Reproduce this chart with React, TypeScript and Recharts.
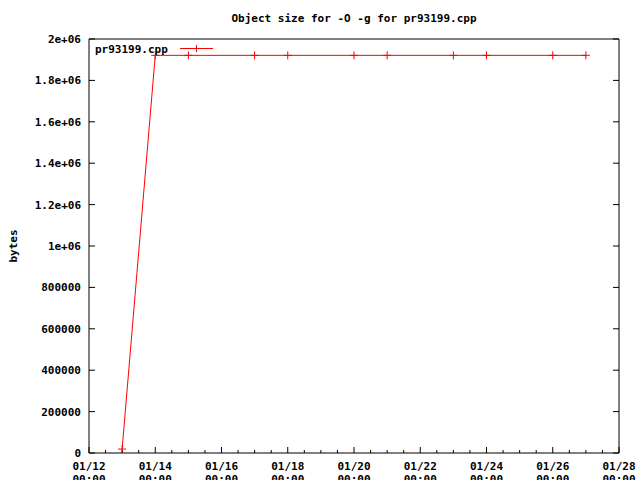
import React from 'react';
import { LineChart, Line, XAxis, YAxis, Legend } from 'recharts';

// day of January for each build, object size in bytes
const days = [13, 14, 15, 17, 18, 20, 21, 23, 24, 26, 27];
const sizes = [19000, 1921000, 1921000, 1921000, 1921000, 1921000, 1921000, 1921000, 1921000, 1921000, 1921000];

const majorDays = [12, 14, 16, 18, 20, 22, 24, 26, 28];
const yTicks = [0, 200000, 400000, 600000, 800000, 1000000, 1200000, 1400000, 1600000, 1800000, 2000000];

const data = days.map((d, i) => ({ day: d, bytes: sizes[i] }));
const xTicks = Array.from({ length: 33 }, (_, i) => 12 + i * 0.5);

const FONT = 'DejaVu Sans Mono';
const RED = '#ff0000';

const fmtY = (v: number) => (v >= 1000000 ? `${v / 1000000}e+06` : String(v));
const pad = (n: number) => (n < 10 ? '0' + n : String(n));

const BottomTick = (props: any) => {
  const { x, y, payload } = props;
  const major = majorDays.includes(payload.value);
  return (
    <g>
      <line x1={x} x2={x} y1={y} y2={y - (major ? 6 : 3)} stroke="#000" />
      {major && (
        <text x={x} textAnchor="middle" fontFamily={FONT} fontWeight="bold" fontSize={11} fill="#000">
          <tspan x={x} y={y + 17}>{`01/${pad(payload.value)}`}</tspan>
          <tspan x={x} y={y + 30}>00:00</tspan>
        </text>
      )}
    </g>
  );
};

const TopTick = (props: any) => {
  const { x, y, payload } = props;
  const major = majorDays.includes(payload.value);
  return <line x1={x} x2={x} y1={y} y2={y + (major ? 6 : 3)} stroke="#000" />;
};

const LeftTick = (props: any) => {
  const { x, y, payload } = props;
  return (
    <g>
      <line x1={x} x2={x + 6} y1={y} y2={y} stroke="#000" />
      <text x={x - 8} y={y + 4} textAnchor="end" fontFamily={FONT} fontWeight="bold" fontSize={11} fill="#000">
        {fmtY(payload.value)}
      </text>
    </g>
  );
};

const RightTick = (props: any) => {
  const { x, y } = props;
  return <line x1={x} x2={x - 6} y1={y} y2={y} stroke="#000" />;
};

const Cross = (props: any) => {
  const { cx, cy, index } = props;
  return <path key={index} d={`M${cx - 4},${cy}h8M${cx},${cy - 4}v8`} stroke={RED} fill="none" />;
};

const LegendBox = () => (
  <svg width={130} height={16} style={{ display: 'block' }}>
    <text x={0} y={12} fontFamily={FONT} fontWeight="bold" fontSize={11} fill="#000">pr93199.cpp</text>
    <line x1={85} x2={118} y1={7.5} y2={7.5} stroke={RED} />
    <path d="M101.5,4v7" stroke={RED} />
  </svg>
);

const App = () => (
  <div style={{ position: 'absolute', left: 0, top: 0, width: 640, height: 480, background: '#fff' }}>
    <LineChart width={640} height={480} data={data} margin={{ top: 38, right: 20, bottom: 0, left: 0 }}>
      <XAxis
        xAxisId="t"
        orientation="top"
        type="number"
        domain={[12, 28]}
        allowDataOverflow
        ticks={xTicks}
        interval={0}
        height={1}
        tickSize={0}
        tickMargin={0}
        tickLine={false}
        tick={TopTick}
        axisLine={{ stroke: '#000' }}
        label={{
          content: ({ viewBox }: any) => (
            <text
              x={viewBox.x + viewBox.width / 2}
              y={viewBox.y - 16}
              textAnchor="middle"
              fontFamily={FONT}
              fontWeight="bold"
              fontSize={11}
              fill="#000"
            >
              Object size for -O -g for pr93199.cpp
            </text>
          ),
        }}
      />
      <XAxis
        xAxisId="b"
        dataKey="day"
        type="number"
        domain={[12, 28]}
        allowDataOverflow
        ticks={xTicks}
        interval={0}
        height={27}
        tickSize={0}
        tickMargin={0}
        tickLine={false}
        tick={BottomTick}
        axisLine={{ stroke: '#000' }}
      />
      <YAxis
        yAxisId="l"
        type="number"
        domain={[0, 2000000]}
        ticks={yTicks}
        interval={0}
        width={89}
        tickSize={0}
        tickMargin={0}
        tickLine={false}
        tick={LeftTick}
        axisLine={{ stroke: '#000' }}
        label={{
          content: ({ viewBox }: any) => {
            const cx = viewBox.x + 17;
            const cy = viewBox.y + viewBox.height / 2;
            return (
              <text
                x={cx}
                y={cy}
                transform={`rotate(-90 ${cx} ${cy})`}
                textAnchor="middle"
                fontFamily={FONT}
                fontWeight="bold"
                fontSize={11}
                fill="#000"
              >
                bytes
              </text>
            );
          },
        }}
      />
      <YAxis
        yAxisId="r"
        orientation="right"
        type="number"
        domain={[0, 2000000]}
        allowDataOverflow
        ticks={yTicks}
        interval={0}
        width={1}
        tickSize={0}
        tickMargin={0}
        tickLine={false}
        tick={RightTick}
        axisLine={{ stroke: '#000' }}
      />
      <Legend
        layout="horizontal"
        verticalAlign="middle"
        align="center"
        wrapperStyle={{ left: 95, top: 41, width: 130 }}
        content={() => <LegendBox />}
      />
      <Line
        xAxisId="b"
        yAxisId="l"
        type="linear"
        dataKey="bytes"
        name="pr93199.cpp"
        stroke={RED}
        strokeWidth={1}
        dot={Cross}
        activeDot={false}
        isAnimationActive={false}
      />
    </LineChart>
  </div>
);

export default App;
